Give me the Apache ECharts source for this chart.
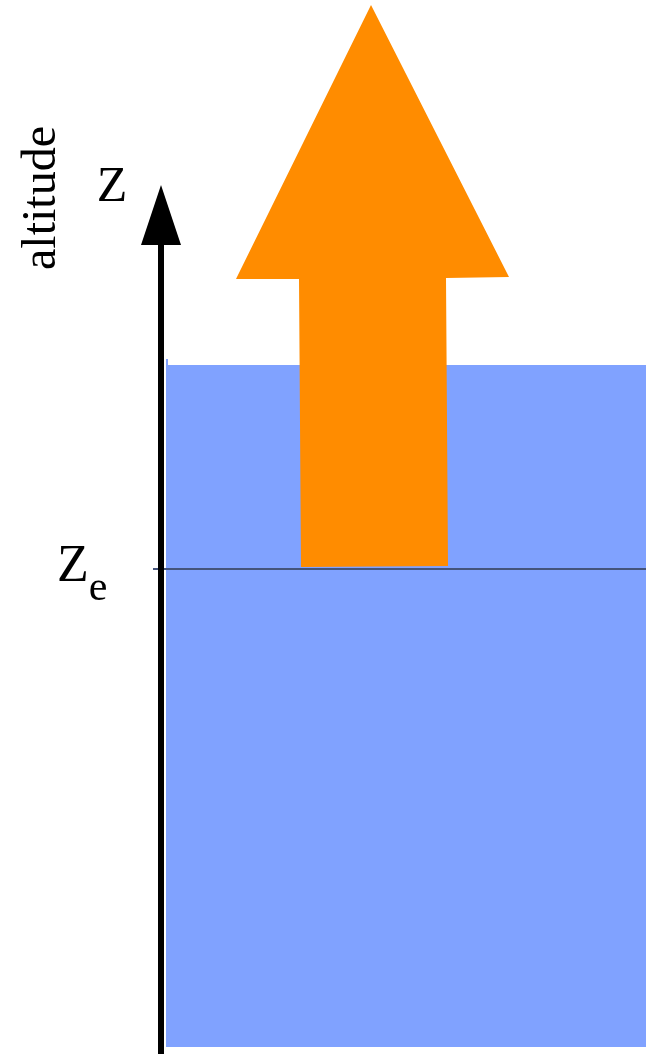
<!DOCTYPE html>
<html>
<head>
<meta charset="utf-8">
<script src="https://cdn.jsdelivr.net/npm/echarts@6/dist/echarts.min.js"></script>
<style>html,body{margin:0;padding:0;background:#fff}#c{width:646px;height:1054px}</style>
</head>
<body>
<div id="c"></div>
<script>
// Diagram geometry in data units (x: horizontal extent, y: depth from top)
const waterBox = [[166, 359], [168, 359], [168, 365], [646, 365], [646, 1047], [166, 1047]];
const fluxArrow = [[371, 5], [509, 277], [446, 278], [448, 566], [301, 567], [299, 279], [236, 279]];
const axisArrowHead = [[161, 185], [181, 245], [141, 245]];
const axisLine = [[161, 240], [161, 1054]];
const zeLine = [[153, 569], [646, 569]];
const labels = [
  { text: 'altitude', pos: [42, 198], size: 48, rot: Math.PI / 2 },
  { text: 'Z', pos: [112, 188], size: 50, rot: 0 },
  { text: 'Z', pos: [73, 567], size: 52, rot: 0 },
  { text: 'e', pos: [98, 589], size: 42, rot: 0 }
];

const chart = echarts.init(document.getElementById('c'), null, { renderer: 'canvas' });

function polygonSeries(points, color, z) {
  return {
    type: 'custom',
    coordinateSystem: 'cartesian2d',
    data: points,
    z: z,
    silent: true,
    renderItem: function (params, api) {
      if (params.dataIndex !== 0) return null;
      return {
        type: 'polygon',
        shape: { points: points.map(p => api.coord(p)) },
        style: { fill: color }
      };
    }
  };
}

const font = '"Liberation Serif", "DejaVu Serif", serif';

chart.setOption({
  animation: false,
  backgroundColor: '#ffffff',
  grid: { left: 0, right: 0, top: 0, bottom: 0 },
  xAxis: { type: 'value', min: 0, max: 646, show: false },
  yAxis: { type: 'value', min: 0, max: 1054, inverse: true, show: false },
  series: [
    polygonSeries(waterBox, '#80a2ff', 1),
    polygonSeries(fluxArrow, '#ff8c00', 2),
    {
      type: 'line', data: zeLine, showSymbol: false, silent: true, z: 3,
      lineStyle: { color: '#44547c', width: 2 }
    },
    {
      type: 'line', data: axisLine, showSymbol: false, silent: true, z: 4,
      lineStyle: { color: '#000000', width: 6 }
    },
    polygonSeries(axisArrowHead, '#000000', 5),
    {
      type: 'custom',
      coordinateSystem: 'cartesian2d',
      data: labels.map(l => l.pos),
      z: 6,
      silent: true,
      renderItem: function (params, api) {
        const l = labels[params.dataIndex];
        const p = api.coord(l.pos);
        return {
          type: 'text',
          x: p[0], y: p[1], rotation: l.rot,
          style: {
            text: l.text, x: 0, y: 0,
            font: l.size + 'px ' + font,
            fill: '#000000', align: 'center', verticalAlign: 'middle'
          }
        };
      }
    }
  ]
});
</script>
</body>
</html>
